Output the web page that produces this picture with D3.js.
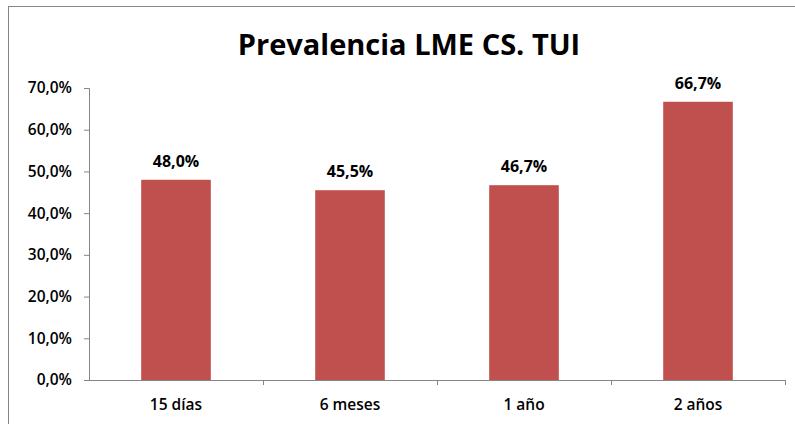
<!DOCTYPE html>
<html>
<head>
<meta charset="utf-8">
<script src="https://cdn.jsdelivr.net/npm/d3@7"></script>
<style>
  body { margin: 0; background: #fff; }
  svg { display: block; }
  .axis text { font-family: "Open Sans", sans-serif; font-size: 15.5px; font-weight: 600; fill: #000; }
  .axis path, .axis line { stroke: #868686; }
</style>
</head>
<body>
<svg width="795" height="424"></svg>
<script>
var categories = ["15 días", "6 meses", "1 año", "2 años"];
var values = [48.0, 45.5, 46.7, 66.7];
var yTicks = [0, 10, 20, 30, 40, 50, 60, 70];

var svg = d3.select("svg"),
  margin = { top: 88, right: 10, bottom: 44, left: 89 },
  width = 795 - margin.left - margin.right,
  height = 424 - margin.top - margin.bottom;

// chart frame
svg.append("rect")
  .attr("x", 8.5).attr("y", 6.5)
  .attr("width", 800).attr("height", 430)
  .attr("fill", "#fff")
  .attr("stroke", "#868686");

svg.append("text")
  .attr("x", 409).attr("y", 55)
  .attr("text-anchor", "middle")
  .style("font-family", "'Open Sans', sans-serif")
  .style("font-weight", "bold")
  .style("font-size", "29px")
  .text("Prevalencia LME CS. TUI");

var g = svg.append("g").attr("transform", `translate(${margin.left},${margin.top})`);

var x = d3.scaleBand().domain(categories).range([0, width]).paddingInner(0.6).paddingOuter(0.3);
var y = d3.scaleLinear().domain([0, 70]).range([height, 0]);

var fmt = function(v) { return d3.format(".1f")(v).replace(".", ",") + "%"; };

g.append("g")
  .attr("class", "axis")
  .call(d3.axisLeft(y).tickValues(yTicks).tickFormat(fmt).tickSize(5).tickPadding(12))
  .call(function(a) { a.select(".domain").attr("d", `M-5,${height}.5H0.5V0.5H-5`); });

// x axis: ticks at category boundaries
var xg = g.append("g").attr("class", "axis").attr("transform", `translate(0,${height})`);
xg.append("line").attr("x1", 0).attr("x2", width).attr("y1", 0.5).attr("y2", 0.5);
xg.selectAll(".tb")
  .data(d3.range(1, categories.length + 1))
  .enter().append("line")
  .attr("x1", function(i) { return Math.round(i * x.step()) + 0.5; })
  .attr("x2", function(i) { return Math.round(i * x.step()) + 0.5; })
  .attr("y1", 0).attr("y2", 5);
xg.selectAll(".lbl")
  .data(categories)
  .enter().append("text")
  .attr("x", function(d) { return x(d) + x.bandwidth() / 2; })
  .attr("y", 30)
  .attr("text-anchor", "middle")
  .text(function(d) { return d; });

g.selectAll(".bar")
  .data(values)
  .enter().append("rect")
  .attr("class", "bar")
  .attr("x", function(d, i) { return x(categories[i]); })
  .attr("y", function(d) { return y(d); })
  .attr("width", x.bandwidth())
  .attr("height", function(d) { return height - y(d); })
  .attr("fill", "#C0504D");

g.selectAll(".val")
  .data(values)
  .enter().append("text")
  .attr("x", function(d, i) { return x(categories[i]) + x.bandwidth() / 2; })
  .attr("y", function(d) { return y(d) - 13; })
  .attr("text-anchor", "middle")
  .style("font-family", "'Open Sans', sans-serif")
  .style("font-weight", "bold")
  .style("font-size", "16px")
  .text(fmt);
</script>
</body>
</html>
